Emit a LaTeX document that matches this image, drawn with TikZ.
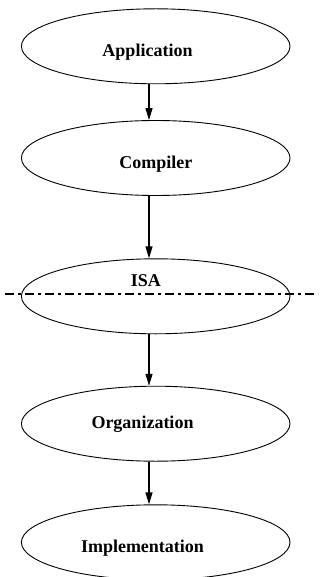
\documentclass[tikz,border=0pt]{standalone}
\usepackage{fontspec}
\setmainfont{Liberation Serif}
\usetikzlibrary{shapes.geometric,arrows.meta}
\begin{document}
\begin{tikzpicture}[x=1pt,y=-1pt,
  layer/.style={draw=black, line width=0.9pt, ellipse, inner sep=0pt,
    minimum width=268.6pt, minimum height=75pt},
  lbl/.style={anchor=base, inner sep=0pt, font=\fontsize{18}{20}\selectfont\bfseries},
  conn/.style={line width=1.3pt, -{Triangle[length=12pt,width=7pt]}},
  cut/.style={line width=2pt, dash pattern=on 9pt off 4pt on 3pt off 4pt}]
\useasboundingbox (0,0) rectangle (323,577);
\coordinate (ax) at (149,0);
\node[layer] (app)  at (155.7,46.3)  {};
\node[layer] (comp) at (155.7,158)   {};
\node[layer] (isa)  at (155.7,296.3) {};
\node[layer] (org)  at (155.7,423.7) {};
\node[layer] (impl) at (155.7,542.3) {};
\node[lbl] (tapp)  at (147.5,56.7)  {Application};
\node[lbl] (tcomp) at (155.8,168.3) {Compiler};
\node[lbl] (tisa)  at (145.8,286.7) {ISA};
\node[lbl] (torg)  at (142.5,428.3) {Organization};
\node[lbl] (timpl) at (142.5,552.3) {Implementation};
\draw[conn] (app.south -| ax) -- (comp.north -| ax);
\draw[conn] (comp.south -| ax) -- (isa.north -| ax);
\draw[conn] (isa.south -| ax) -- (org.north -| ax);
\draw[conn] (org.south -| ax) -- (impl.north -| ax);
\coordinate (cl) at (5,294.3);
\coordinate (cr) at (318,294.3);
\draw[cut] (cl) -- (cr);
\end{tikzpicture}
\end{document}
